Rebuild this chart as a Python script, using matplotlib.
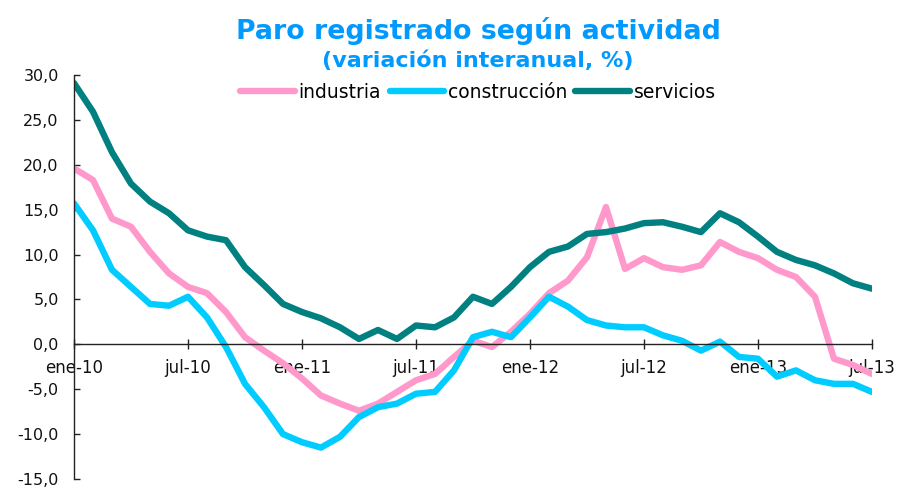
import matplotlib.pyplot as plt
from matplotlib.ticker import FuncFormatter

# Monthly data, ene-10 .. jul-13 (variación interanual, %)
months = ['ene-10', 'feb-10', 'mar-10', 'abr-10', 'may-10', 'jun-10',
          'jul-10', 'ago-10', 'sep-10', 'oct-10', 'nov-10', 'dic-10',
          'ene-11', 'feb-11', 'mar-11', 'abr-11', 'may-11', 'jun-11',
          'jul-11', 'ago-11', 'sep-11', 'oct-11', 'nov-11', 'dic-11',
          'ene-12', 'feb-12', 'mar-12', 'abr-12', 'may-12', 'jun-12',
          'jul-12', 'ago-12', 'sep-12', 'oct-12', 'nov-12', 'dic-12',
          'ene-13', 'feb-13', 'mar-13', 'abr-13', 'may-13', 'jun-13',
          'jul-13']

industria = [19.6, 18.3, 14.0, 13.1, 10.3, 7.9, 6.4, 5.7, 3.6, 0.8, -0.7,
             -2.1, -3.8, -5.7, -6.6, -7.4, -6.6, -5.3, -4.0, -3.3, -1.4,
             0.4, -0.3, 1.4, 3.4, 5.7, 7.1, 9.7, 15.3, 8.4, 9.6, 8.6, 8.3,
             8.8, 11.4, 10.3, 9.6, 8.3, 7.5, 5.3, -1.6, -2.3, -3.3]

construccion = [15.7, 12.7, 8.3, 6.4, 4.5, 4.3, 5.3, 3.0, -0.3, -4.4, -7.0,
                -10.0, -10.9, -11.5, -10.3, -8.1, -7.0, -6.6, -5.5, -5.3,
                -2.9, 0.8, 1.4, 0.8, 3.0, 5.3, 4.2, 2.7, 2.1, 1.9, 1.9, 1.0,
                0.4, -0.7, 0.3, -1.4, -1.6, -3.6, -2.9, -4.0, -4.4, -4.4,
                -5.3]

servicios = [29.1, 25.9, 21.4, 17.9, 15.9, 14.6, 12.7, 12.0, 11.6, 8.6, 6.6,
             4.5, 3.6, 2.9, 1.9, 0.6, 1.6, 0.6, 2.1, 1.9, 3.0, 5.3, 4.5, 6.4,
             8.6, 10.3, 10.9, 12.3, 12.5, 12.9, 13.5, 13.6, 13.1, 12.5, 14.6,
             13.6, 12.0, 10.3, 9.4, 8.8, 7.9, 6.8, 6.2]

x = list(range(len(months)))

fig = plt.figure(figsize=(8.97, 4.87), dpi=100)
ax = fig.add_axes([0.0825, 0.0164, 0.8896, 0.8296])

lw = 4.6
ax.plot(x, industria, color='#FF99CC', lw=lw, solid_capstyle='round',
        solid_joinstyle='round', label='industria')
ax.plot(x, construccion, color='#00CCFF', lw=lw, solid_capstyle='round',
        solid_joinstyle='round', label='construcción')
ax.plot(x, servicios, color='#008080', lw=lw, solid_capstyle='round',
        solid_joinstyle='round', label='servicios')

ax.set_xlim(0, 42)
ax.set_ylim(-15, 30)
ax.set_yticks(range(-15, 31, 5))
ax.yaxis.set_major_formatter(FuncFormatter(lambda v, p: f'{v:.1f}'.replace('.', ',')))
ax.set_xticks(x[::6])
ax.set_xticklabels(months[::6])

for s in ['top', 'right']:
    ax.spines[s].set_visible(False)
ax.spines['bottom'].set_position(('data', 0))
for s in ['left', 'bottom']:
    ax.spines[s].set_color('#222222')
    ax.spines[s].set_linewidth(1.0)

ax.tick_params(axis='y', direction='in', length=4.5, width=1, color='#222222',
               labelsize=11.5, pad=11, labelcolor='#111111')
ax.tick_params(axis='x', direction='inout', length=7, width=1, color='#222222',
               labelsize=12, pad=7, labelcolor='#111111')

fig.text(0.533, 0.937, 'Paro registrado según actividad', ha='center',
         va='center', fontsize=19.3, fontweight='bold', color='#0099FF')
fig.text(0.533, 0.875, '(variación interanual, %)', ha='center',
         va='center', fontsize=16, fontweight='bold', color='#0099FF')

ax.legend(loc='center', bbox_to_anchor=(0.533, 0.81), bbox_transform=fig.transFigure,
          ncol=3, frameon=False, fontsize=13.5, handlelength=2.9,
          handletextpad=0.2, columnspacing=0.45, borderpad=0)

fig.savefig('out.png', dpi=100)
